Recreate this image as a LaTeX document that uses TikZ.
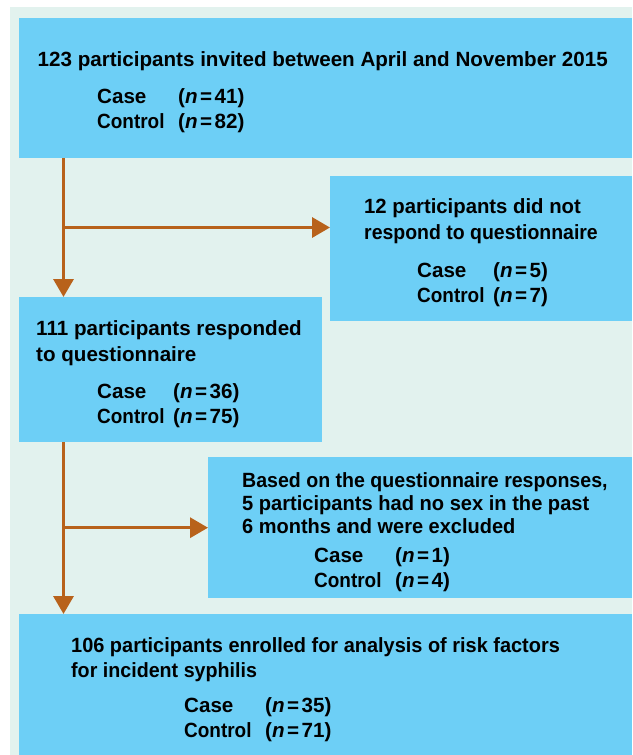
\documentclass[tikz,border=0pt]{standalone}
\usepackage{fontspec}
\setmainfont{Liberation Sans}
\usetikzlibrary{arrows.meta,calc}
\definecolor{bgmint}{HTML}{E2F2EE}
\definecolor{boxblue}{HTML}{6DCFF6}
\definecolor{arrbrown}{HTML}{B8621B}
\tikzset{
  box/.style={fill=boxblue, draw=none, inner sep=0pt, anchor=north west},
  txt/.style={anchor=base west, inner sep=0pt, font=\fontsize{20.6}{24}\selectfont\bfseries},
  sq/.style={xscale=#1, transform shape},
  ctl/.style={txt, sq=0.92},
  arr/.style={draw=arrbrown, line width=3.3pt, -{Triangle[width=20pt,length=18pt]}}
}
\newcommand{\nn}{\textit{n}\kern2.5pt=\kern2.5pt}
\begin{document}
\begin{tikzpicture}[x=1pt,y=-1pt]
\useasboundingbox (0,0) rectangle (632,755);
\fill[white] (0,0) rectangle (632,755);
\fill[bgmint] (10,7) rectangle (632,755);
% boxes
\node[box, minimum width=613pt, minimum height=140pt] (B1) at (19,18) {};
\node[box, minimum width=302pt, minimum height=145pt] (B2) at (330,176) {};
\node[box, minimum width=303pt, minimum height=145pt] (B3) at (19,297) {};
\node[box, minimum width=424pt, minimum height=141pt] (B4) at (208,457) {};
\node[box, minimum width=613pt, minimum height=141pt] (B5) at (19,614) {};
% connectors
\coordinate (trunk) at (63.5,0);
\coordinate (br1) at (63.5,227.5);
\draw[arr] (B1.south west -| trunk) -- (B3.north west -| trunk);
\draw[arr] (br1) -- (br1 -| B2.west);
\draw[arr] (B3.south west -| trunk) -- (B5.north west -| trunk);
\draw[arr] (B4.west -| trunk) -- (B4.west);
% texts box 1
\node[txt] (t1a) at (37.5,66.7) {123 participants invited between April and November 2015};
\node[txt] (t1b) at (97,103) {Case};
\node[txt] (t1c) at (178,103) {(\nn41)};
\node[ctl] (t1d) at (97,128) {Control};
\node[txt] (t1e) at (178,128) {(\nn82)};
% box 2
\node[txt, sq=0.986] (t2a) at (364,213) {12 participants did not};
\node[txt, sq=0.945] (t2b) at (364,239) {respond to questionnaire};
\node[txt] (t2c) at (417,277) {Case};
\node[txt] (t2d) at (493,277) {(\nn5)};
\node[ctl] (t2e) at (417,302) {Control};
\node[txt] (t2f) at (493,302) {(\nn7)};
% box 3
\node[txt] (t3a) at (36,335) {111 participants responded};
\node[txt] (t3b) at (36,361) {to questionnaire};
\node[txt] (t3c) at (97,398) {Case};
\node[txt] (t3d) at (173,398) {(\nn36)};
\node[ctl] (t3e) at (97,423) {Control};
\node[txt] (t3f) at (173,423) {(\nn75)};
% box 4
\node[txt, sq=0.95] (t4a) at (242,487) {Based on the questionnaire responses,};
\node[txt, sq=0.975] (t4b) at (242,510) {5 participants had no sex in the past};
\node[txt, sq=0.97] (t4c) at (242,533) {6 months and were excluded};
\node[txt] (t4d) at (314,562) {Case};
\node[txt] (t4e) at (395,562) {(\nn1)};
\node[ctl] (t4f) at (314,587) {Control};
\node[txt] (t4g) at (395,587) {(\nn4)};
% box 5
\node[txt, sq=0.968] (t5a) at (71,652) {106 participants enrolled for analysis of risk factors};
\node[txt, sq=0.955] (t5b) at (71,677) {for incident syphilis};
\node[txt] (t5c) at (184,712) {Case};
\node[txt] (t5d) at (265,712) {(\nn35)};
\node[ctl] (t5e) at (184,737) {Control};
\node[txt] (t5f) at (265,737) {(\nn71)};
\end{tikzpicture}
\end{document}
